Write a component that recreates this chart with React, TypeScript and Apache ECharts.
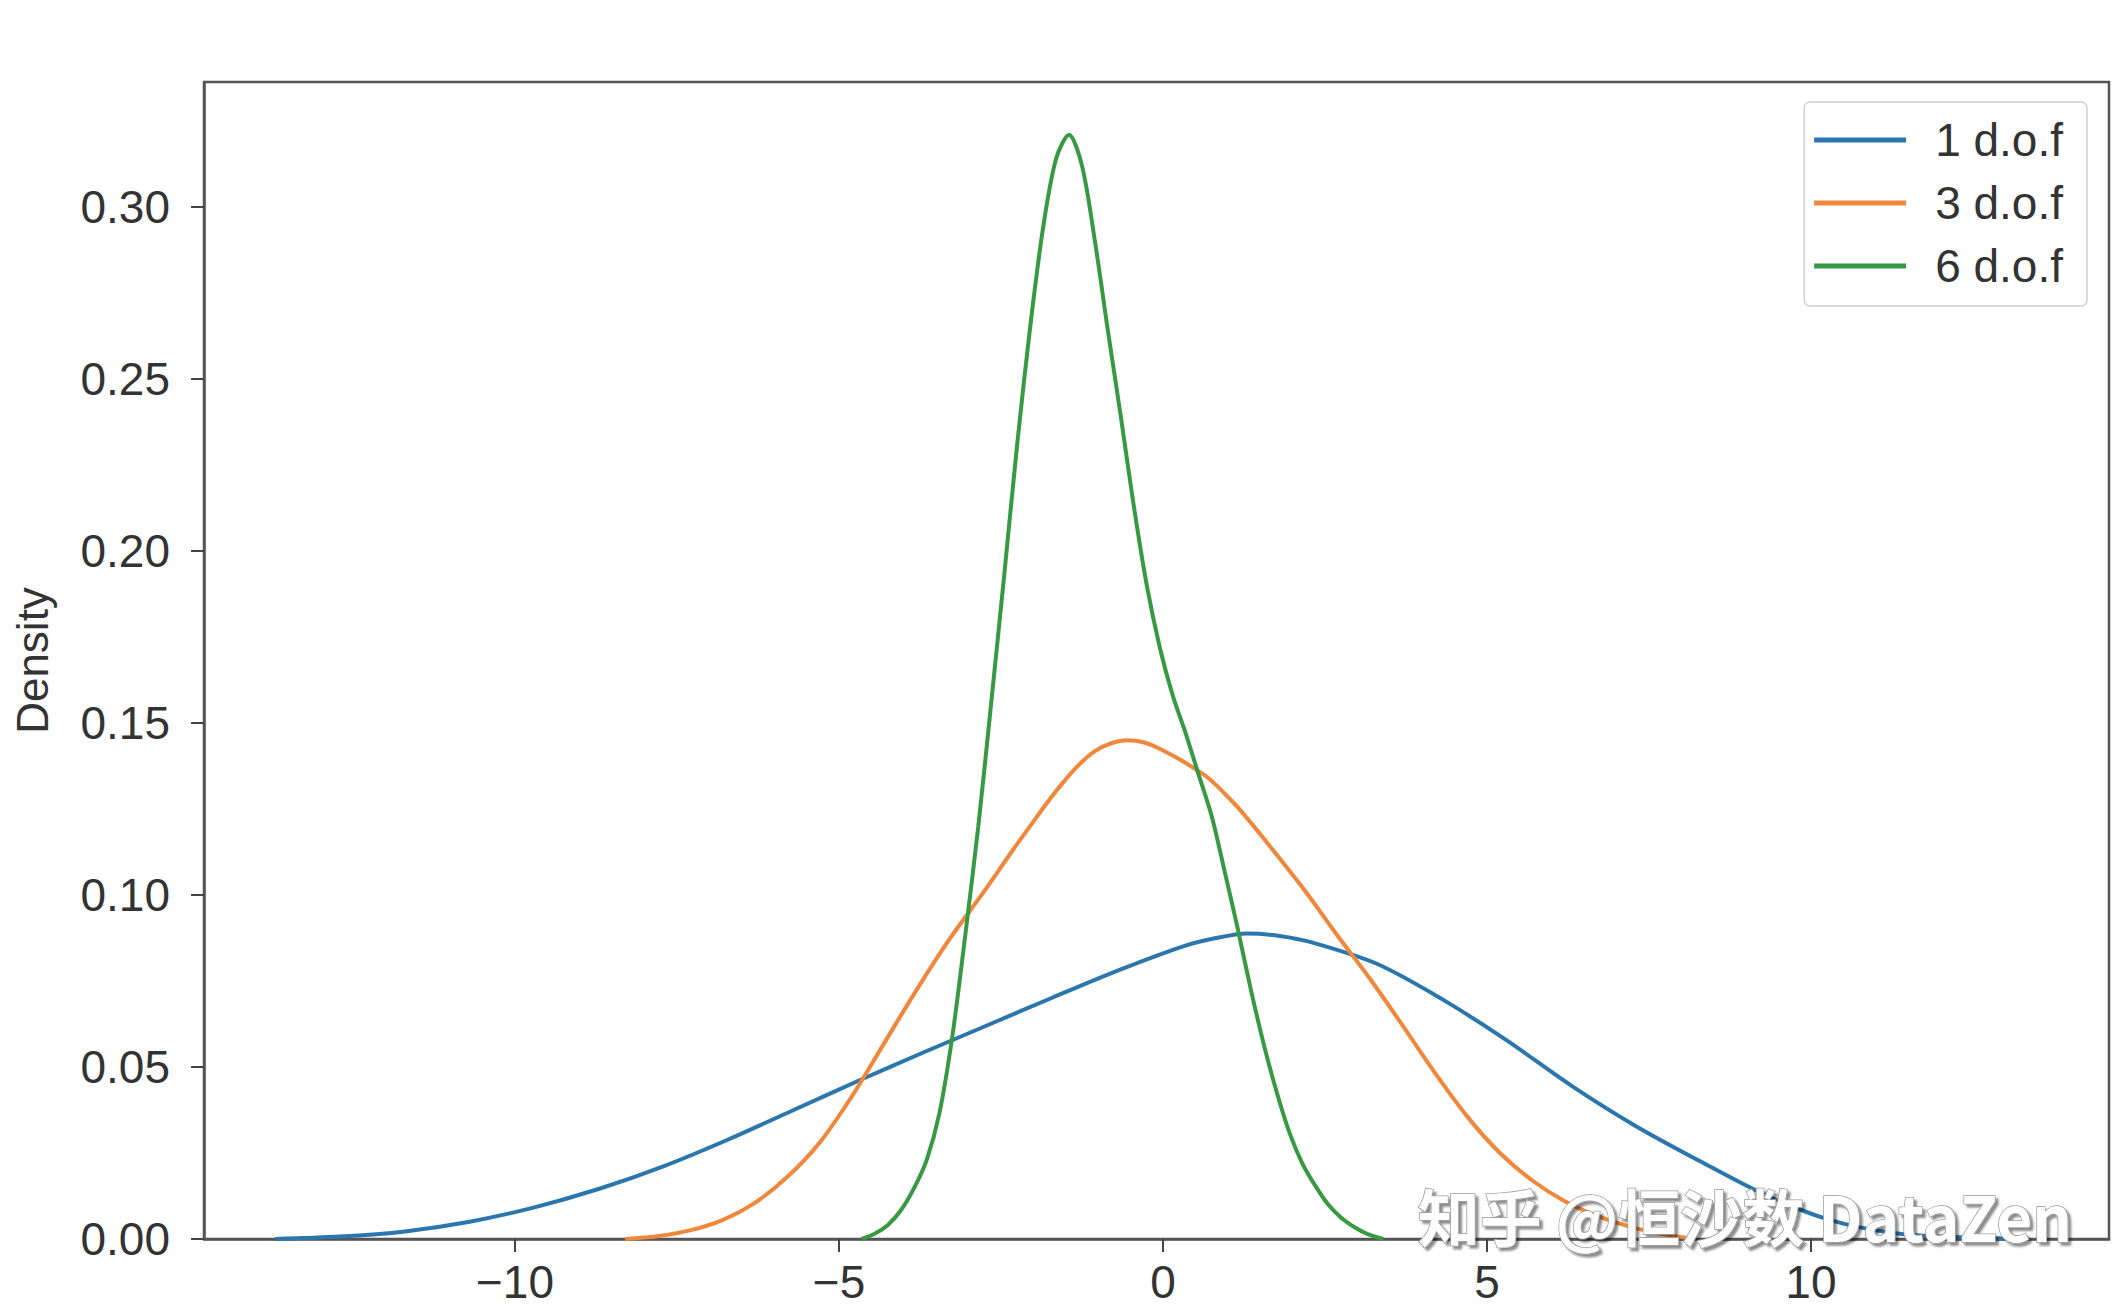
import {useEffect, useRef} from "react";
import * as echarts from "echarts";

// KDE curves: x and density pairs
const dof1X = [-13.7, -12.7, -11.7, -10.7, -9.7, -8.7, -7.7, -6.7, -5.7, -4.7, -3.7, -2.7, -1.7, -0.7, 0.3, 0.8, 1.3, 1.8, 2.3, 3.3, 4.3, 5.3, 6.3, 7.3, 8.3, 9.3, 10.3, 11.3, 12.3, 13.3];
const dof1Y = [0, 0.0007, 0.0022, 0.005, 0.0092, 0.0146, 0.0212, 0.029, 0.0375, 0.046, 0.0542, 0.0622, 0.0702, 0.078, 0.085, 0.0874, 0.0888, 0.0881, 0.0862, 0.08, 0.0698, 0.0578, 0.0446, 0.0328, 0.0225, 0.0128, 0.0055, 0.0017, 0.0005, 0];

const dof3X = [-8.3, -7.8, -7.3, -6.8, -6.3, -5.8, -5.3, -4.8, -4.3, -3.8, -3.3, -2.8, -2.3, -2.05, -1.8, -1.55, -1.3, -1.05, -0.8, -0.55, -0.3, -0.05, 0.2, 0.45, 0.7, 0.95, 1.2, 1.7, 2.2, 2.7, 3.2, 3.7, 4.2, 4.7, 5.2, 5.7, 6.2, 6.7, 7.2, 7.7, 8.2];
const dof3Y = [0, 0.0008, 0.0025, 0.0055, 0.0105, 0.018, 0.028, 0.0415, 0.057, 0.0725, 0.087, 0.1, 0.1135, 0.12, 0.1265, 0.1325, 0.1378, 0.1418, 0.1441, 0.145, 0.1444, 0.1425, 0.14, 0.1372, 0.134, 0.1295, 0.1245, 0.113, 0.101, 0.088, 0.0755, 0.062, 0.0482, 0.0355, 0.025, 0.017, 0.011, 0.0067, 0.0036, 0.0015, 0];

const dof6X = [-4.65, -4.45, -4.25, -4.05, -3.85, -3.65, -3.45, -3.25, -3.05, -2.85, -2.65, -2.45, -2.25, -2.05, -1.85, -1.65, -1.45, -1.25, -1.05, -0.85, -0.65, -0.45, -0.25, -0.05, 0.15, 0.35, 0.55, 0.75, 0.95, 1.15, 1.35, 1.55, 1.75, 1.95, 2.15, 2.35, 2.55, 2.75, 2.95, 3.15, 3.4];
const dof6Y = [0, 0.0015, 0.004, 0.0082, 0.0145, 0.0228, 0.0366, 0.059, 0.0885, 0.12, 0.156, 0.193, 0.231, 0.265, 0.294, 0.314, 0.321, 0.312, 0.29, 0.264, 0.239, 0.213, 0.19, 0.172, 0.158, 0.147, 0.135, 0.123, 0.107, 0.0905, 0.073, 0.057, 0.043, 0.031, 0.022, 0.0155, 0.01, 0.0062, 0.0035, 0.0015, 0];

const seriesNames = ["1 d.o.f", "3 d.o.f", "6 d.o.f"];
const seriesColors = ["#2b76ad", "#f0873a", "#379a42"];
const xTicks = [-10, -5, 0, 5, 10];
const yTicks = [0, 0.05, 0.1, 0.15, 0.2, 0.25, 0.3];

const FONT = "Liberation Sans";

function pairs(xs: number[], ys: number[]): [number, number][] {
    return xs.map((x, i) => [x, ys[i]] as [number, number]);
}

export default function App() {
    const domRef = useRef<HTMLDivElement>(null);

    useEffect(() => {
        if (!domRef.current) return;
        const chart = echarts.init(domRef.current, null, {renderer: "svg"});
        const curves = [pairs(dof1X, dof1Y), pairs(dof3X, dof3Y), pairs(dof6X, dof6Y)];

        chart.setOption({
            animation: false,
            backgroundColor: "#fff",
            grid: {left: 204, right: 15, top: 82, bottom: 71, show: true, borderColor: "#555", borderWidth: 2.5, backgroundColor: "#fff"},
            legend: {
                orient: "vertical",
                right: 37,
                top: 102,
                icon: "rect",
                itemWidth: 92,
                itemHeight: 5,
                itemGap: 17,
                padding: [15, 24, 17, 10],
                backgroundColor: "#fff",
                borderColor: "#d0d0d0",
                borderWidth: 1.5,
                borderRadius: 6,
                textStyle: {fontFamily: FONT, fontSize: 46, color: "#333", padding: [0, 0, 0, 24]},
                data: seriesNames,
            },
            xAxis: {
                type: "value",
                min: -14.8,
                max: 14.6,
                splitLine: {show: false},
                axisLine: {show: true, onZero: false, lineStyle: {color: "#555", width: 2.5}},
                axisTick: {show: true, length: 13, customValues: xTicks, lineStyle: {color: "#444", width: 2}},
                axisLabel: {
                    customValues: xTicks,
                    margin: 20,
                    fontFamily: FONT,
                    fontSize: 46,
                    color: "#333",
                    formatter: (v: number) => (v < 0 ? "\u2212" + Math.abs(v) : String(v)),
                },
            },
            yAxis: {
                type: "value",
                min: 0,
                max: 0.3363,
                name: "Density",
                nameLocation: "middle",
                nameGap: 150,
                nameTextStyle: {fontFamily: FONT, fontSize: 44, color: "#333"},
                splitLine: {show: false},
                axisLine: {show: true, onZero: false, lineStyle: {color: "#555", width: 2.5}},
                axisTick: {show: true, length: 13, customValues: yTicks, lineStyle: {color: "#444", width: 2}},
                axisLabel: {
                    customValues: yTicks,
                    margin: 34,
                    fontFamily: FONT,
                    fontSize: 46,
                    color: "#333",
                    formatter: (v: number) => v.toFixed(2),
                },
            },
            series: seriesNames.map((name, i) => ({
                name,
                type: "line",
                data: curves[i],
                showSymbol: false,
                smooth: 0.3,
                color: seriesColors[i],
                lineStyle: {color: seriesColors[i], width: 4},
            })),
            graphic: [
                {
                    type: "text",
                    left: 1417,
                    top: 1183,
                    z: 100,
                    style: {
                        text: "知乎 @恒沙数 DataZen",
                        fontFamily: "Noto Sans CJK SC",
                        fontSize: 62,
                        fontWeight: "bold",
                        fill: "#fff",
                        stroke: "#9a9a9a",
                        lineWidth: 1.5,
                        textShadowColor: "rgba(0,0,0,0.45)",
                        textShadowOffsetX: 3,
                        textShadowOffsetY: 3,
                        textShadowBlur: 2,
                    },
                },
            ],
        });

        return () => {
            chart.dispose();
        };
    }, []);

    return <div ref={domRef} style={{position: "fixed", left: 0, top: 0, width: 2124, height: 1310}} />;
}
